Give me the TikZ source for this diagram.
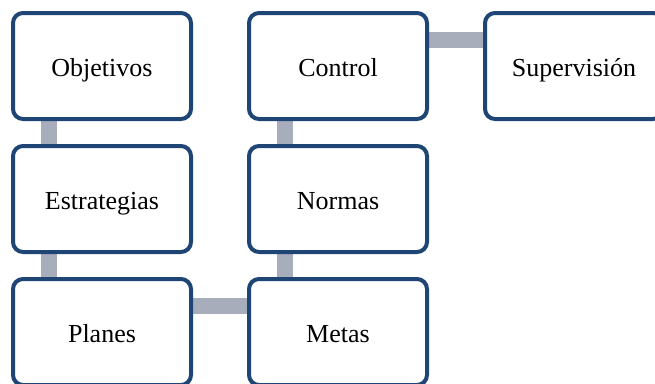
\documentclass[tikz,border=0pt]{standalone}
\usepackage{fontspec}
\setmainfont{Liberation Serif}
\usetikzlibrary{backgrounds}
\definecolor{boxblue}{RGB}{31,69,116}
\definecolor{linkgray}{RGB}{167,173,187}

\begin{document}
\begin{tikzpicture}[
        x=1pt,y=1pt,
        box/.style={draw=boxblue,line width=4pt,fill=white,rounded corners=10pt,
            minimum width=178pt,minimum height=106pt,inner sep=0pt,
            text height=20pt,text depth=0pt,
            font=\fontsize{26}{30}\selectfont},
        link/.style={draw=linkgray,line width=16pt}
        ]
        \useasboundingbox (0,0) rectangle (655,-383);
        \clip (0,0) rectangle (655,-383);

        \node[box] (obj) at (102,-66){Objetivos};
        \node[box] (ctrl) at (338,-66){Control};
        \node[box] (sup) at (574,-66){Supervisión};

        \node[box] (est) at (102,-199){Estrategias};
        \node[box] (norm) at (338,-199){Normas};

        \node[box] (plan) at (102,-332){Planes};
        \node[box] (meta) at (338,-332){Metas};

        \begin{scope}[on background layer]
        \draw[link] ([xshift=-53pt]obj.south) -- ([xshift=-53pt]est.north);
        \draw[link] ([xshift=-53pt]est.south) -- ([xshift=-53pt]plan.north);
        \draw[link] ([yshift=26pt]plan.east) -- ([yshift=26pt]meta.west);
        \draw[link] ([xshift=-53pt]meta.north) -- ([xshift=-53pt]norm.south);
        \draw[link] ([xshift=-53pt]norm.north) -- ([xshift=-53pt]ctrl.south);
        \draw[link] ([yshift=26pt]ctrl.east) -- ([yshift=26pt]sup.west);
        \end{scope}
    \end{tikzpicture}
\end{document}
